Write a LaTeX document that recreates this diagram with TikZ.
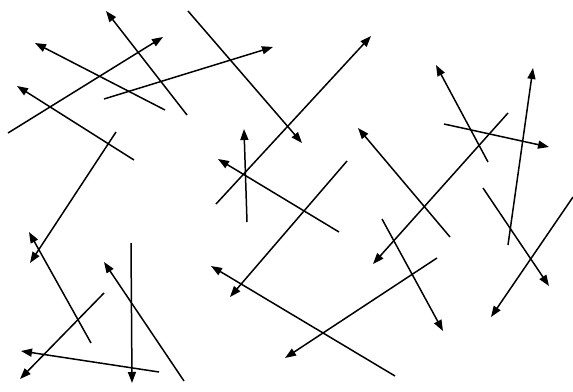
\documentclass[tikz,border=0pt]{standalone}
\usetikzlibrary{arrows.meta}
\begin{document}
\begin{tikzpicture}[x=1pt,y=-1pt,
  arr/.style={line width=1.5pt,-{Triangle[length=11pt,width=8pt]}}]
\useasboundingbox (0,0) rectangle (573,391);
\foreach \i/\ax/\ay/\bx/\by in {
 1/165/110/35/43,
 2/187/115/106/11,
 3/8/133/163/37,
 4/104/99/273/47,
 5/134/160/17/86,
 6/116/132/30/263,
 7/188/11/302/143,
 8/247/222/244/129,
 9/339/232/218/159,
 10/216/204/371/36,
 11/488/162/436/65,
 12/444/124/549/147,
 13/508/245/533/68,
 14/508/113/373/264,
 15/450/237/358/128,
 16/347/161/230/297,
 17/483/188/549/286,
 18/573/197/491/317,
 19/382/219/443/331,
 20/437/258/285/358,
 21/395/376/211/266,
 22/91/343/29/232,
 23/104/293/20/379,
 24/131/243/132/383,
 25/184/381/104/262,
 26/159/372/21/351}
{
  \coordinate (t\i) at (\ax,\ay);
  \coordinate (h\i) at (\bx,\by);
  \draw[arr] (t\i) -- (h\i);
}
\end{tikzpicture}
\end{document}
